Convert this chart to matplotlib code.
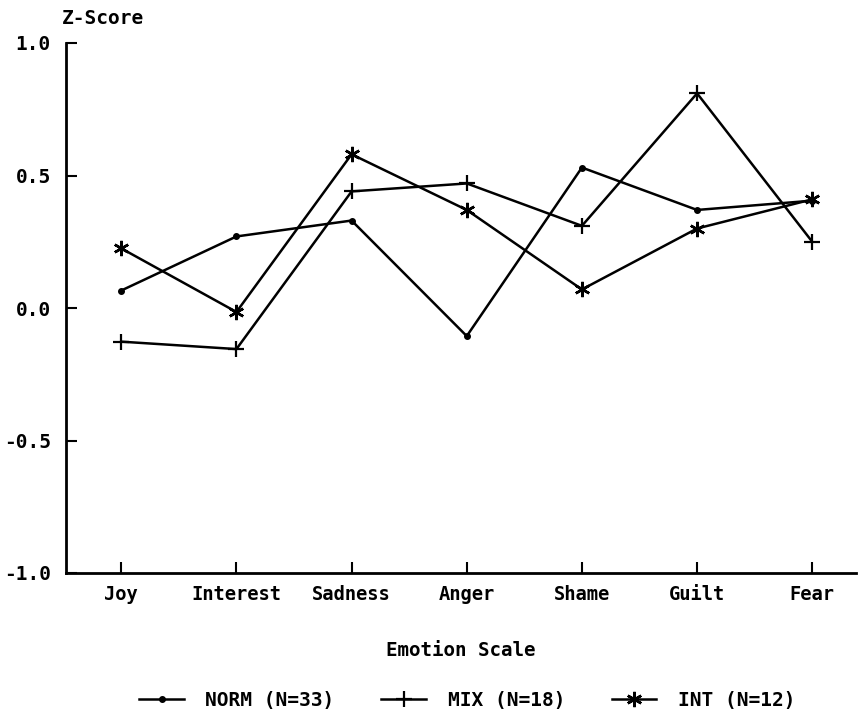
import numpy as np
import matplotlib
matplotlib.use('Agg')
import matplotlib.pyplot as plt

plt.rcParams['font.family'] = 'DejaVu Sans Mono'
plt.rcParams['font.weight'] = 'bold'

emotions = ['Joy', 'Interest', 'Sadness', 'Anger', 'Shame', 'Guilt', 'Fear']
norm = [0.066, 0.27, 0.33, -0.106, 0.53, 0.37, 0.405]
mix = [-0.127, -0.155, 0.44, 0.47, 0.31, 0.81, 0.25]
intr = [0.225, -0.015, 0.58, 0.37, 0.07, 0.30, 0.41]
yticks = [1.0, 0.5, 0.0, -0.5, -1.0]

fig = plt.figure(figsize=(8.67, 7.17), dpi=100)
ax = fig.add_axes([66/867, 144/717, 790/867, 530/717])

x = np.arange(len(emotions))
ax.plot(x, norm, color='black', lw=1.8, marker='o', ms=4, label='NORM (N=33)')
ax.plot(x, mix, color='black', lw=1.8, marker='+', ms=12, mew=1.6, label='MIX (N=18)')
ax.plot(x, intr, color='black', lw=1.8, marker=(6, 2, 0), ms=11, mew=1.8, label='INT (N=12)')

ax.set_xlim(-0.48, 6.38)
ax.set_ylim(-1.0, 1.0)
ax.set_xticks(x)
ax.set_xticklabels(emotions, fontsize=13.5, fontweight='bold')
ax.set_yticks(yticks)
ax.set_yticklabels(['%.1f' % v for v in yticks], fontsize=14, fontweight='bold')
ax.tick_params(direction='in', length=8, width=1.5)
ax.tick_params(axis='x', pad=9)
ax.tick_params(axis='y', pad=11)

for s in ['top', 'right']:
    ax.spines[s].set_visible(False)
for s in ['left', 'bottom']:
    ax.spines[s].set_linewidth(2)

ax.set_xlabel('Emotion Scale', fontsize=13.8, fontweight='bold', labelpad=26)
fig.text(62/867, 1 - 18/717, 'Z-Score', fontsize=14, fontweight='bold', va='center', ha='left')

ax.legend(loc='center', bbox_to_anchor=(0.508, -0.24), ncol=3, frameon=False,
          handlelength=2.3, columnspacing=2.4, handletextpad=1.1,
          prop={'weight': 'bold', 'size': 14})

fig.savefig('out.png', dpi=100)
